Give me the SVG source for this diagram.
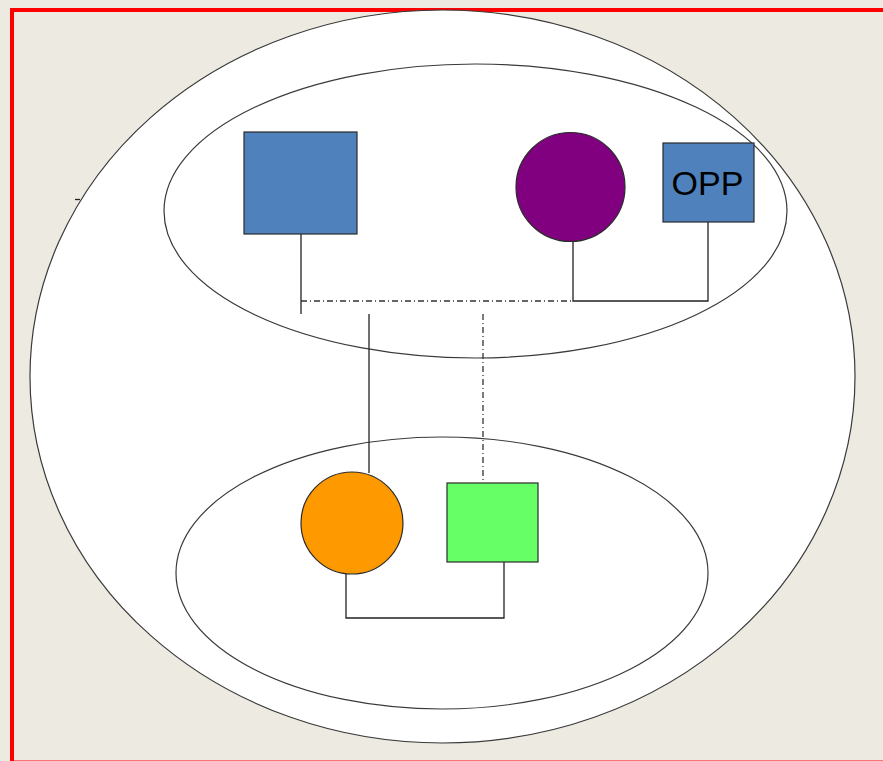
<svg xmlns="http://www.w3.org/2000/svg" width="883" height="761" viewBox="0 0 883 761">
  <style>
    .ring { fill: #ffffff; stroke: #3a3a3a; stroke-width: 1.2; }
    .node { stroke: #2a2a2a; stroke-width: 1.2; }
    .link { fill: none; stroke: #222222; stroke-width: 1.3; }
    .dashdot { fill: none; stroke: #333333; stroke-width: 1.3; stroke-dasharray: 6 3 1 3; }
    .label { font-family: "Liberation Sans", Arial, sans-serif; font-size: 34px; fill: #000000; }
  </style>

  <!-- page background and frame -->
  <rect x="0" y="0" width="883" height="761" fill="#EDEBE1"/>
  <rect x="12" y="10" width="880" height="752.5" fill="none" stroke="#FF0000" stroke-width="4"/>

  <!-- groupings -->
  <g id="outer-group">
    <ellipse class="ring" cx="442.5" cy="376.5" rx="412.5" ry="366.5"/>
  </g>
  <g id="upper-group">
    <ellipse class="ring" cx="475.5" cy="211" rx="311.5" ry="147"/>
  </g>
  <g id="lower-group">
    <ellipse class="ring" cx="442" cy="573" rx="266" ry="136"/>
  </g>

  <!-- connectors -->
  <g id="connectors">
    <path class="link" d="M75 199.5 H80"/>
    <path class="link" d="M301 234 V314"/>
    <path class="dashdot" d="M301 301 H573"/>
    <path class="link" d="M573 236 V301 H708 V222"/>
    <path class="link" d="M369 314 V473"/>
    <path class="dashdot" d="M483 314 V483"/>
    <path class="link" d="M346 574 V618 H504 V562"/>
  </g>

  <!-- nodes -->
  <g id="blue-square">
    <rect class="node" x="244" y="132" width="113" height="102" fill="#4F81BD"/>
  </g>
  <g id="purple-circle">
    <circle class="node" cx="570.5" cy="187" r="54.5" fill="#800080"/>
  </g>
  <g id="opp">
    <rect class="node" x="663" y="143" width="91" height="79" fill="#4F81BD"/>
    <text class="label" x="707.5" y="195" text-anchor="middle">OPP</text>
  </g>
  <g id="orange-circle">
    <circle class="node" cx="352" cy="523" r="51" fill="#FF9900"/>
  </g>
  <g id="green-square">
    <rect class="node" x="447" y="483" width="91" height="79" fill="#66FF66"/>
  </g>
</svg>
